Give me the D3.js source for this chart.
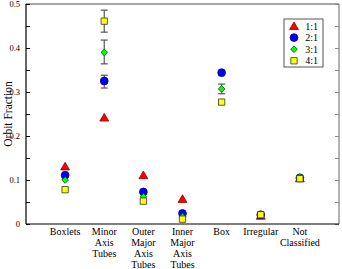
<!DOCTYPE html>
<html>
<head>
<meta charset="utf-8">
<script src="https://cdn.jsdelivr.net/npm/d3@7"></script>
<style>
  body { margin: 0; background: #fff; }
  svg { display: block; font-family: "Liberation Serif", "DejaVu Serif", serif; }
</style>
</head>
<body>
<svg id="chart"></svg>
<script>
// categories along x (multi-line labels)
const categories = [
  ['Boxlets'],
  ['Minor', 'Axis', 'Tubes'],
  ['Outer', 'Major', 'Axis', 'Tubes'],
  ['Inner', 'Major', 'Axis', 'Tubes'],
  ['Box'],
  ['Irregular'],
  ['Not', 'Classified']
];
const seriesNames = ['1:1', '2:1', '3:1', '4:1'];

// orbit fraction per category, one array per axis ratio (null = not shown)
const ratio11 = [0.131, 0.242, 0.111, 0.057, null, 0.019, 0.104];
const ratio21 = [0.111, 0.325, 0.073, 0.024, 0.344, 0.021, 0.105];
const ratio31 = [0.100, 0.390, 0.062, 0.017, 0.307, 0.021, 0.107];
const ratio41 = [0.078, 0.461, 0.052, 0.011, 0.277, 0.021, 0.103];

// error bars [low, high]; null where none drawn
const err21 = [null, [0.309, 0.338], null, null, null, null, null];
const err31 = [null, [0.364, 0.418], null, null, [0.296, 0.318], null, null];
const err41 = [null, [0.436, 0.486], null, null, null, null, null];

const yTicks = [0, 0.1, 0.2, 0.3, 0.4, 0.5];
const yMinorTicks = [0.05, 0.15, 0.25, 0.35, 0.45];

const config = {
  width: 342, height: 269,
  margin: { top: 4, right: 3, bottom: 45, left: 26 }
};

let svg = d3.select('#chart')
    .attr('width', config.width)
    .attr('height', config.height);

let width = config.width - config.margin.left - config.margin.right;
let height = config.height - config.margin.top - config.margin.bottom;

let chart = svg.append('g')
    .attr('transform', `translate(${config.margin.left},${config.margin.top})`);

let xScale = d3.scaleLinear().domain([0, categories.length + 1]).range([0, width]);
let yScale = d3.scaleLinear().domain([0, 0.5]).range([height, 0]);

// frame: top & right grey, left & bottom black
chart.append('line').attr('x1', 0).attr('x2', width).attr('y1', 0).attr('y2', 0)
    .attr('stroke', '#888').attr('stroke-width', 1.3);
chart.append('line').attr('x1', width).attr('x2', width).attr('y1', 0).attr('y2', height)
    .attr('stroke', '#888').attr('stroke-width', 1.3);

// left axis with inward ticks
let allTicks = yTicks.concat(yMinorTicks);
let yAxisG = chart.append('g')
    .call(d3.axisRight(yScale).tickValues(allTicks).tickSize(4).tickFormat(''));
yAxisG.select('.domain').remove();
yAxisG.selectAll('line').attr('stroke', '#000');
chart.append('line').attr('x1', 0).attr('x2', 0).attr('y1', 0).attr('y2', height)
    .attr('stroke', '#000').attr('stroke-width', 1.2);

// right axis ticks pointing inward
let yAxisR = chart.append('g')
    .attr('transform', `translate(${width},0)`)
    .call(d3.axisLeft(yScale).tickValues(allTicks).tickSize(4).tickFormat(''));
yAxisR.select('.domain').remove();
yAxisR.selectAll('line').attr('stroke', '#888');

chart.append('line').attr('x1', 0).attr('x2', width).attr('y1', height).attr('y2', height)
    .attr('stroke', '#000').attr('stroke-width', 1.2);

// y tick labels
chart.selectAll('text.ytick')
  .data(yTicks)
  .join('text')
    .attr('class', 'ytick')
    .attr('x', -6)
    .attr('y', d => yScale(d) + 3)
    .attr('text-anchor', 'end')
    .style('font-size', '8.5px')
    .text(d => d === 0 ? '0' : d3.format('.1f')(d));

// y axis title
svg.append('text')
    .attr('transform', `translate(12,${config.margin.top + height / 2}) rotate(-90)`)
    .attr('text-anchor', 'middle')
    .style('font-size', '11.5px')
    .text('Orbit Fraction');

// category labels
categories.forEach((lines, i) => {
  let t = chart.append('text')
      .attr('x', xScale(i + 1))
      .attr('y', height + 10.5)
      .attr('text-anchor', 'middle')
      .style('font-size', '10px');
  lines.forEach((l, j) => {
    t.append('tspan').attr('x', xScale(i + 1)).attr('dy', j === 0 ? 0 : 11).text(l);
  });
});

// error bars
const errColor = '#555';
[err21, err31, err41].forEach(errs => {
  errs.forEach((e, i) => {
    if (!e) return;
    let cx = xScale(i + 1);
    let g = chart.append('g').attr('stroke', errColor).attr('stroke-width', 1.2);
    g.append('line').attr('x1', cx).attr('x2', cx).attr('y1', yScale(e[0])).attr('y2', yScale(e[1]));
    g.append('line').attr('x1', cx - 3.5).attr('x2', cx + 3.5).attr('y1', yScale(e[0])).attr('y2', yScale(e[0]));
    g.append('line').attr('x1', cx - 3.5).attr('x2', cx + 3.5).attr('y1', yScale(e[1])).attr('y2', yScale(e[1]));
  });
});

// marker styles (diamond = square turned 45deg)
const markers = [
  { sym: d3.symbolTriangle, size: 34, fill: '#ff0000', stroke: '#8b0000', rot: 0, dy: 1 },
  { sym: d3.symbolCircle, size: 48, fill: '#0000ff', stroke: '#00008b', rot: 0, dy: 0 },
  { sym: d3.symbolSquare, size: 22, fill: '#00ff00', stroke: '#006400', rot: 45, dy: 0 },
  { sym: d3.symbolSquare, size: 40, fill: '#ffff00', stroke: '#333', rot: 0, dy: 0 }
];
const series = [ratio11, ratio21, ratio31, ratio41];

series.forEach((vals, s) => {
  let m = markers[s];
  let pts = vals.map((v, i) => ({ i: i, v: v })).filter(d => d.v !== null);
  chart.selectAll(`path.s${s}`)
    .data(pts)
    .join('path')
      .attr('class', `s${s}`)
      .attr('d', d3.symbol().type(m.sym).size(m.size))
      .attr('transform', d => `translate(${xScale(d.i + 1)},${yScale(d.v) + m.dy}) rotate(${m.rot})`)
      .attr('fill', m.fill)
      .attr('stroke', m.stroke)
      .attr('stroke-width', 0.8);
});

// legend
let legend = svg.append('g').attr('transform', 'translate(284,19)');
legend.append('rect')
    .attr('width', 39).attr('height', 48)
    .attr('fill', '#fff').attr('stroke', '#555').attr('stroke-width', 1);
seriesNames.forEach((name, s) => {
  let m = markers[s];
  let cy = 7 + s * 11.6;
  legend.append('path')
      .attr('d', d3.symbol().type(m.sym).size(m.size))
      .attr('transform', `translate(10,${cy + m.dy}) rotate(${m.rot})`)
      .attr('fill', m.fill).attr('stroke', m.stroke).attr('stroke-width', 0.8);
  legend.append('text')
      .attr('x', 34).attr('y', cy + 3.5)
      .attr('text-anchor', 'end')
      .style('font-size', '10px')
      .text(name);
});
</script>
</body>
</html>
